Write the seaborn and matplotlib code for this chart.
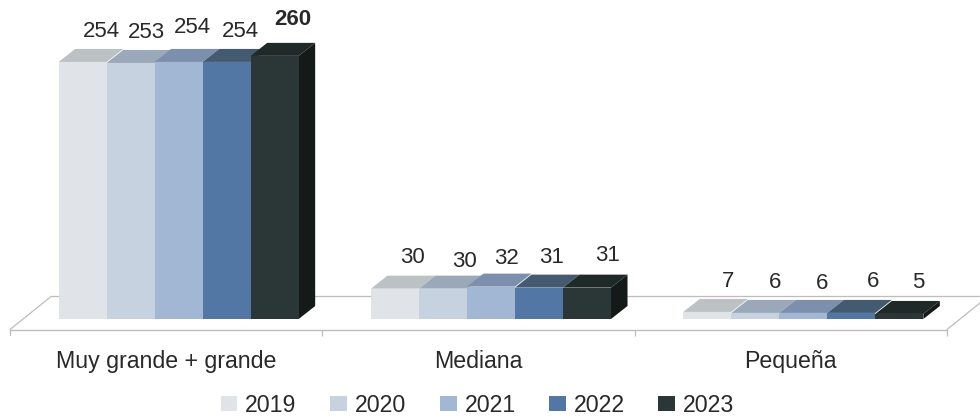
import pandas as pd
import matplotlib.pyplot as plt
from matplotlib.patches import Polygon
from matplotlib.ticker import FixedLocator
import seaborn as sns

# Datos del gráfico
categorias = ['Muy grande + grande', 'Mediana', 'Pequeña']
anios = ['2019', '2020', '2021', '2022', '2023']
valores_2019 = [254, 30, 7]
valores_2020 = [253, 30, 6]
valores_2021 = [254, 32, 6]
valores_2022 = [254, 31, 6]
valores_2023 = [260, 31, 5]

# Colores: cara frontal y cara superior de cada barra
colores = ['#e0e4e8', '#c6d2df', '#a1b7d3', '#5277a5', '#2b3636']
colores_top = ['#bcc1c4', '#9ba8b9', '#7c8fac', '#435a70', '#1f2928']
color_lateral = '#141a17'
color_linea = '#bdbdbd'
color_texto = '#2a2829'

# Desplazamiento en píxeles de cada etiqueta respecto al centro superior de la barra
etiqueta_dx = [[19, 17, 21], [16, 21, 20], [14, 15, 19], [14, 13, 22], [18, 21, 19]]
etiqueta_dy = [[30, 31, 30], [30, 27, 30], [34, 28, 29], [30, 30, 31], [36, 32, 31]]

series = [valores_2019, valores_2020, valores_2021, valores_2022, valores_2023]
filas = []
for anio, serie in zip(anios, series):
    for categoria, valor in zip(categorias, serie):
        filas.append({'categoria': categoria, 'anio': anio, 'valor': valor})
df = pd.DataFrame(filas)

sns.set_theme(style='white')
plt.rcParams['font.family'] = ['Liberation Sans', 'DejaVu Sans']

W, H = 980, 418
fig = plt.figure(figsize=(W / 100, H / 100), dpi=100)
# Los ejes son el plano donde se apoyan las barras
ax = fig.add_axes([22.5 / W, (H - 319) / H, 937 / W, 319 / H])

sns.barplot(data=df, x='categoria', y='valor', hue='anio', order=categorias, hue_order=anios,
            palette=colores, saturation=1, width=0.7685, gap=0, linewidth=0, ax=ax)
ax.set_xlim(-0.5, 2.5)
ax.set_ylim(0, 315.2)
ax.patch.set_alpha(0)
ax.set_xlabel('')
ax.set_ylabel('')
ax.set_yticks([])

px_x = 937 / 3
px_y = 319 / 315.2
fondo_dx, fondo_dy = 16.5 / px_x, 13 / px_y

# Caras superior y lateral, a partir de las barras ya dibujadas
for i, contenedor in enumerate(ax.containers):
    for barra in contenedor:
        x0, ancho, alto = barra.get_x(), barra.get_width(), barra.get_height()
        x1 = x0 + ancho
        top = [(x0, alto), (x1, alto), (x1 + fondo_dx, alto + fondo_dy), (x0 + fondo_dx, alto + fondo_dy)]
        ax.add_patch(Polygon(top, closed=True, fc=colores_top[i], lw=0, zorder=0.5, clip_on=False))
        # Solo la última serie deja ver el lateral
        if i == len(anios) - 1:
            lado = [(x1, 0), (x1 + fondo_dx, fondo_dy), (x1 + fondo_dx, alto + fondo_dy), (x1, alto)]
            ax.add_patch(Polygon(lado, closed=True, fc=color_lateral, lw=0, zorder=0.5, clip_on=False))

# Etiquetas de valores
for i, contenedor in enumerate(ax.containers):
    for j, barra in enumerate(contenedor):
        es_max = anios[i] == '2023' and j == 0
        ax.annotate(str(int(barra.get_height())),
                    (barra.get_x() + barra.get_width() / 2, barra.get_height()),
                    xytext=(etiqueta_dx[i][j], etiqueta_dy[i][j]), textcoords='offset pixels',
                    ha='center', va='center', fontsize=16, color=color_texto,
                    fontweight='bold' if es_max else 'normal', annotation_clip=False)

# Suelo en perspectiva
desv = 12.5 / px_x
y_front = -10.5 / px_y
y_back = 22.5 / px_y
x_izq, x_der = -0.5 - desv, 2.5 - desv
prof = 41 / px_x
ax.plot([x_izq, x_izq + prof, x_der + prof, x_der], [y_front, y_back, y_back, y_front],
        color=color_linea, lw=0.9, zorder=0.2, clip_on=False)
# La primera marca queda fuera de xlim, hay que dibujarla aparte
ax.plot([x_izq, x_izq], [y_front, y_front - 5.5 / px_y], color=color_linea, lw=0.9, clip_on=False)

for nombre in ['top', 'left', 'right']:
    ax.spines[nombre].set_visible(False)
ax.spines['bottom'].set_position(('outward', 10.5 * 0.72))
ax.spines['bottom'].set_bounds(x_izq, x_der)
ax.spines['bottom'].set_color(color_linea)
ax.spines['bottom'].set_linewidth(1.0)

ax.set_xticks([p - desv for p in range(len(categorias))], categorias)
ax.xaxis.set_minor_locator(FixedLocator([x_izq + k for k in range(1, 4)]))
ax.tick_params(axis='x', which='major', length=0, pad=15, labelsize=16.7, labelcolor=color_texto)
ax.tick_params(axis='x', which='minor', bottom=True, length=4, width=0.9, color=color_linea)

# Leyenda
handles, labels = ax.get_legend_handles_labels()
ax.legend(handles, labels, ncol=5, loc='center', bbox_to_anchor=(477.5 / W, (H - 405) / H),
          bbox_transform=fig.transFigure, frameon=False, fontsize=16.7, labelcolor=color_texto,
          handlelength=0.73, handleheight=0.62, handletextpad=0.34, columnspacing=1.44,
          borderpad=0, borderaxespad=0)

fig.savefig('out.png', dpi=100)
